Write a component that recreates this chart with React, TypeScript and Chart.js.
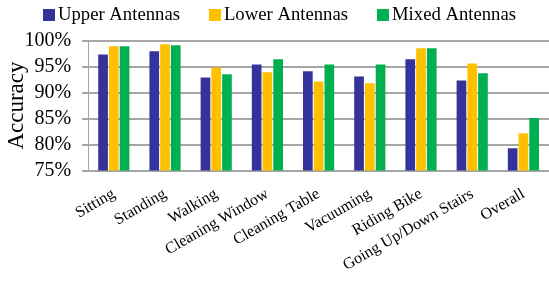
import React, { useEffect, useRef } from "react";
import { Chart, registerables } from "chart.js";

Chart.register(...registerables);

const categories = [
  "Sitting",
  "Standing",
  "Walking",
  "Cleaning Window",
  "Cleaning Table",
  "Vacuuming",
  "Riding Bike",
  "Going Up/Down Stairs",
  "Overall",
];
const upperAntennas = [97.3, 97.95, 92.9, 95.4, 94.1, 93.1, 96.4, 92.3, 79.3];
const lowerAntennas = [98.9, 99.3, 94.8, 93.9, 92.1, 91.8, 98.5, 95.6, 82.2];
const mixedAntennas = [98.9, 99.1, 93.5, 96.4, 95.4, 95.4, 98.5, 93.7, 85.1];
const seriesNames = ["Upper Antennas", "Lower Antennas", "Mixed Antennas"];
const seriesColors = ["#333399", "#FFC000", "#00B050"];
const yTitle = "Accuracy";

const FONT = "'Liberation Serif', 'Times New Roman', serif";

const topLegend = {
  id: "topLegend",
  afterDraw(chart: any) {
    const ctx = chart.ctx;
    ctx.save();
    ctx.font = `18.7px ${FONT}`;
    ctx.textBaseline = "middle";
    ctx.textAlign = "left";
    let x = 43;
    const cy = 15;
    chart.data.datasets.forEach((ds: any) => {
      ctx.fillStyle = ds.backgroundColor;
      ctx.fillRect(x, cy - 6, 12, 12);
      ctx.fillStyle = "#000";
      ctx.fillText(ds.label, x + 15, cy);
      x += 15 + ctx.measureText(ds.label).width + 29;
    });
    ctx.restore();
  },
};

export default function App() {
  const ref = useRef<HTMLCanvasElement>(null);
  useEffect(() => {
    document.body.style.margin = "0";
    Chart.defaults.font.family = FONT;
    const chart = new Chart(ref.current!, {
      type: "bar",
      data: {
        labels: categories,
        datasets: [
          { label: seriesNames[0], data: upperAntennas, backgroundColor: seriesColors[0] },
          { label: seriesNames[1], data: lowerAntennas, backgroundColor: seriesColors[1] },
          { label: seriesNames[2], data: mixedAntennas, backgroundColor: seriesColors[2] },
        ],
      },
      plugins: [topLegend],
      options: {
        responsive: false,
        animation: false,
        layout: { padding: { left: 6, right: 0, top: 40.5, bottom: 2 } },
        datasets: { bar: { categoryPercentage: 0.63, barPercentage: 0.9 } },
        plugins: {
          legend: { display: false },
          tooltip: { enabled: false },
        },
        scales: {
          x: {
            grid: { display: false },
            border: { display: true, color: "#A6A6A6", width: 2 },
            ticks: {
              font: { family: FONT, size: 16 },
              color: "#000",
              maxRotation: 30,
              minRotation: 30,
              autoSkip: false,
              padding: 6,
            },
          },
          y: {
            min: 75,
            max: 100,
            grid: { color: "#A6A6A6", lineWidth: 2, drawTicks: true, tickLength: 6 },
            border: { display: true, color: "#A6A6A6", width: 1 },
            ticks: {
              stepSize: 5,
              autoSkip: false,
              padding: 11,
              font: { family: FONT, size: 20 },
              color: "#000",
              callback: (v: any) => v + "%",
            },
            title: {
              display: true,
              text: yTitle,
              font: { family: FONT, size: 23, lineHeight: 0.85 },
              color: "#000",
              padding: { top: 1, bottom: -13 },
            },
          },
        },
      },
    });
    return () => chart.destroy();
  }, []);
  return <canvas ref={ref} width={549} height={283} style={{ display: "block" }} />;
}
